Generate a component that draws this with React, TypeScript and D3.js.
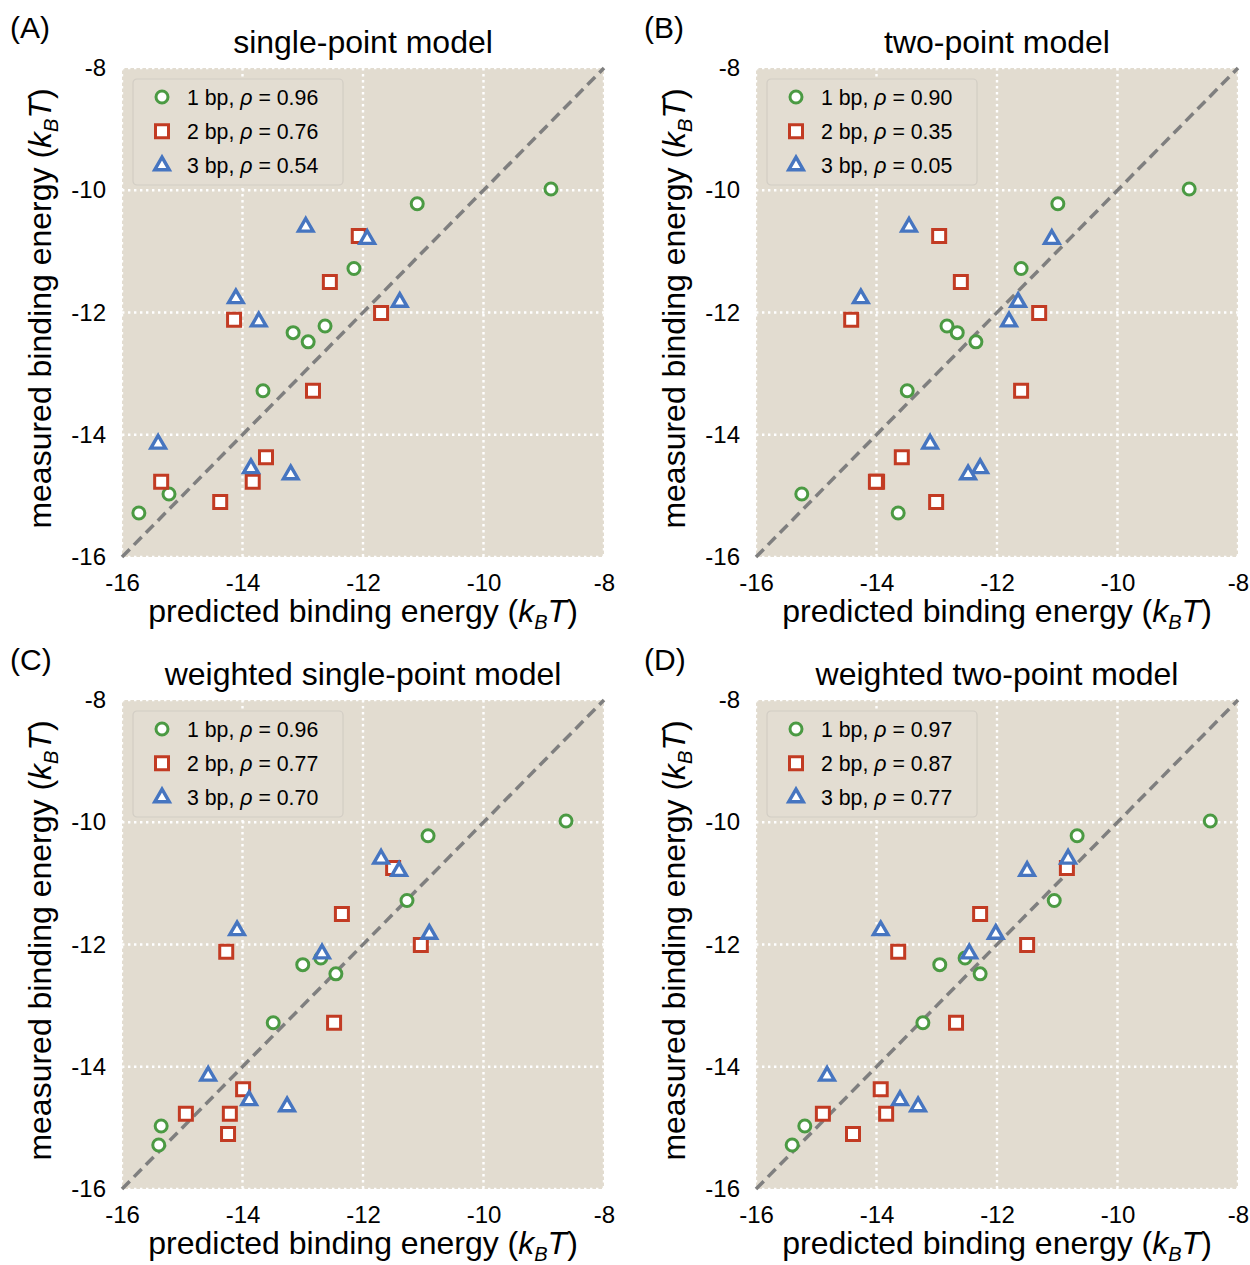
import { useRef, useEffect } from "react";
import * as d3 from "d3";

const W = 1250;
const H = 1265;
const FONT = "'Liberation Sans', Arial, Helvetica, sans-serif";

const TICKS = [-16, -14, -12, -10, -8];
const PANEL_LETTERS = ["(A)", "(B)", "(C)", "(D)"];
const MODEL_TITLES = [
  "single-point model",
  "two-point model",
  "weighted single-point model",
  "weighted two-point model",
];
const SERIES = ["1 bp", "2 bp", "3 bp"];
const RHO_1BP = ["0.96", "0.90", "0.96", "0.97"];
const RHO_2BP = ["0.76", "0.35", "0.77", "0.87"];
const RHO_3BP = ["0.54", "0.05", "0.70", "0.77"];

// measured energies are shared by all four models
const MEASURED_1BP = [-9.98, -10.22, -11.28, -12.22, -12.33, -12.48, -13.28, -14.97, -15.28];
const MEASURED_2BP = [-10.75, -11.5, -12.01, -12.12, -13.28, -14.37, -14.77, -14.77, -15.1];
const MEASURED_3BP = [-10.6, -10.8, -11.77, -11.83, -12.15, -14.15, -14.55, -14.65];

// predicted energies, one row per model (A, B, C, D)
const PREDICTED_1BP = [
  [-8.88, -11.1, -12.15, -12.63, -13.16, -12.91, -13.66, -15.22, -15.72],
  [-8.81, -10.99, -11.6, -12.83, -12.66, -12.35, -13.49, -15.24, -13.64],
  [-8.63, -10.92, -11.27, -12.7, -13.0, -12.45, -13.49, -15.35, -15.39],
  [-8.46, -10.67, -11.05, -12.53, -12.95, -12.28, -13.23, -15.19, -15.4],
];
const PREDICTED_2BP = [
  [-12.07, -12.55, -11.7, -14.14, -12.83, -13.61, -15.35, -13.83, -14.37],
  [-12.96, -12.6, -11.3, -14.42, -11.6, -13.58, -13.99, -14.01, -13.01],
  [-11.5, -12.35, -11.04, -14.27, -12.48, -13.99, -14.94, -14.21, -14.24],
  [-10.84, -12.28, -11.5, -13.64, -12.68, -13.93, -14.89, -13.84, -14.39],
];
const PREDICTED_3BP = [
  [-12.95, -11.93, -14.11, -11.39, -13.73, -15.4, -13.86, -13.2],
  [-13.46, -11.09, -14.26, -11.65, -11.8, -13.11, -12.28, -12.48],
  [-11.7, -11.4, -14.09, -10.9, -12.68, -14.57, -13.89, -13.26],
  [-10.82, -11.5, -13.93, -12.02, -12.46, -14.82, -13.61, -13.31],
];

const COLORS = ["#4b9a43", "#c23b23", "#4675c0"];
const SYMBOLS = [
  d3.symbol(d3.symbolCircle, 113),
  d3.symbol(d3.symbolSquare, 169),
  d3.symbol(d3.symbolTriangle, 92),
];
const BG = "#e2dcd0";

const PANEL_ORIGINS = [
  [122, 68],
  [756, 68],
  [122, 700],
  [756, 700],
];
const PLOT_W = 482;
const PLOT_H = 489;

function addEnergyLabel(text) {
  text.append("tspan").text("energy (");
  text.append("tspan").attr("font-style", "italic").text("k");
  text.append("tspan").attr("font-style", "italic").attr("font-size", 20).attr("dy", 7).text("B");
  text.append("tspan").attr("font-style", "italic").attr("dy", -7).text("T");
  text.append("tspan").text(")");
}

function App() {
  const svgRef = useRef<SVGSVGElement>(null);

  useEffect(() => {
    const svg = d3.select(svgRef.current);
    svg.selectAll("*").remove();
    svg
      .attr("width", W)
      .attr("height", H)
      .attr("viewBox", `0 0 ${W} ${H}`)
      .style("font-family", FONT);

    svg.append("rect").attr("width", W).attr("height", H).attr("fill", "#fff");

    PANEL_ORIGINS.forEach(([left, top], p) => {
      const x = d3.scaleLinear().domain([-16, -8]).range([left, left + PLOT_W]);
      const y = d3.scaleLinear().domain([-16, -8]).range([top + PLOT_H, top]);
      const g = svg.append("g");

      g.append("rect")
        .attr("x", left)
        .attr("y", top)
        .attr("width", PLOT_W)
        .attr("height", PLOT_H)
        .attr("fill", BG);

      // dotted white grid
      const grid = g
        .append("g")
        .attr("stroke", "#fff")
        .attr("stroke-width", 2.4)
        .attr("stroke-dasharray", "2.4,3.6");
      grid
        .selectAll("line.v")
        .data(TICKS)
        .join("line")
        .attr("class", "v")
        .attr("x1", (d) => x(d))
        .attr("x2", (d) => x(d))
        .attr("y1", top)
        .attr("y2", top + PLOT_H);
      grid
        .selectAll("line.h")
        .data(TICKS)
        .join("line")
        .attr("class", "h")
        .attr("x1", left)
        .attr("x2", left + PLOT_W)
        .attr("y1", (d) => y(d))
        .attr("y2", (d) => y(d));

      // axes
      const xAxis = g
        .append("g")
        .attr("transform", `translate(0,${top + PLOT_H})`)
        .call(d3.axisBottom(x).tickValues(TICKS).tickSize(0).tickPadding(17).tickFormat(d3.format("d")));
      const yAxis = g
        .append("g")
        .attr("transform", `translate(${left},0)`)
        .call(d3.axisLeft(y).tickValues(TICKS).tickSize(0).tickPadding(16).tickFormat(d3.format("d")));
      [xAxis, yAxis].forEach((a) => {
        a.select(".domain").remove();
        a.selectAll("text")
          .attr("font-size", 24)
          .attr("font-family", FONT)
          .attr("fill", "#000")
          .text((d) => String(d).replace("\u2212", "-"));
      });

      // identity line
      g.append("line")
        .attr("x1", x(-16))
        .attr("y1", y(-16))
        .attr("x2", x(-8))
        .attr("y2", y(-8))
        .attr("stroke", "#7f7f7f")
        .attr("stroke-width", 3.5)
        .attr("stroke-dasharray", "11,6");

      // points
      const groups = [
        { measured: MEASURED_1BP, predicted: PREDICTED_1BP[p] },
        { measured: MEASURED_2BP, predicted: PREDICTED_2BP[p] },
        { measured: MEASURED_3BP, predicted: PREDICTED_3BP[p] },
      ];
      groups.forEach((s, i) => {
        g.append("g")
          .selectAll("path")
          .data(s.predicted.map((v, k) => [v, s.measured[k]]))
          .join("path")
          .attr("d", SYMBOLS[i])
          .attr("transform", (d) => `translate(${x(d[0])},${y(d[1])})`)
          .attr("fill", "#fff")
          .attr("stroke", COLORS[i])
          .attr("stroke-width", i === 2 ? 3.4 : 3);
      });

      // legend
      const rhos = [RHO_1BP[p], RHO_2BP[p], RHO_3BP[p]];
      const lg = g.append("g").attr("transform", `translate(${left + 11},${top + 11})`);
      lg.append("rect")
        .attr("width", 210)
        .attr("height", 106)
        .attr("rx", 4)
        .attr("fill", "#e3ddd2")
        .attr("stroke", "#d2cdc4")
        .attr("stroke-width", 1.2);
      SERIES.forEach((name, i) => {
        const ry = 18 + i * 34.3;
        lg.append("path")
          .attr("d", SYMBOLS[i])
          .attr("transform", `translate(29,${ry})`)
          .attr("fill", "#fff")
          .attr("stroke", COLORS[i])
          .attr("stroke-width", i === 2 ? 3.4 : 3);
        const t = lg
          .append("text")
          .attr("x", 54)
          .attr("y", ry + 7.5)
          .attr("font-size", 21.3)
          .attr("fill", "#000");
        t.append("tspan").text(`${name}, `);
        t.append("tspan").attr("font-style", "italic").text("\u03c1");
        t.append("tspan").text(` = ${rhos[i]}`);
      });

      // titles
      g.append("text")
        .attr("x", left - 112)
        .attr("y", top - 30)
        .attr("font-size", 30)
        .text(PANEL_LETTERS[p]);
      g.append("text")
        .attr("x", left + PLOT_W / 2)
        .attr("y", top - 15)
        .attr("text-anchor", "middle")
        .attr("font-size", 32)
        .text(MODEL_TITLES[p]);

      const xt = g
        .append("text")
        .attr("x", left + PLOT_W / 2)
        .attr("y", top + PLOT_H + 65)
        .attr("text-anchor", "middle")
        .attr("font-size", 32);
      xt.append("tspan").text("predicted binding ");
      addEnergyLabel(xt);

      const yt = g
        .append("text")
        .attr("transform", `translate(${left - 71},${top + PLOT_H / 2 - 4}) rotate(-90)`)
        .attr("text-anchor", "middle")
        .attr("font-size", 32);
      yt.append("tspan").text("measured binding ");
      addEnergyLabel(yt);
    });
  }, []);

  return (
    <div style={{ position: "absolute", left: 0, top: 0 }}>
      <svg ref={svgRef} style={{ display: "block" }}></svg>
    </div>
  );
}

export default App;
